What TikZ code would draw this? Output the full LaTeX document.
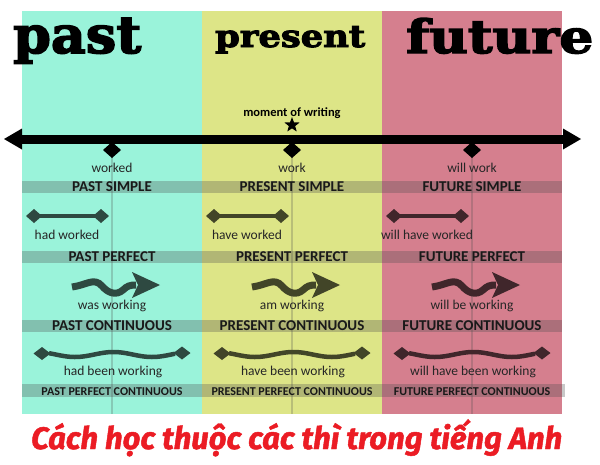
\documentclass[tikz,border=0pt]{standalone}
\usepackage{fontspec}
\usepackage{graphicx}
\usetikzlibrary{shapes.geometric}
\setmainfont{Carlito}
\newfontfamily\headfont{DejaVu Serif}[BoldFeatures={FakeBold=3}]
\newfontfamily\titlefont{Fira Sans}[BoldItalicFeatures={FakeBold=1.5}]
\definecolor{pastbg}{RGB}{154,243,218}
\definecolor{presbg}{RGB}{221,229,135}
\definecolor{futbg}{RGB}{213,127,142}
\definecolor{pastdk}{RGB}{46,73,65}
\definecolor{presdk}{RGB}{66,69,40}
\definecolor{futdk}{RGB}{64,38,43}
\definecolor{titlered}{RGB}{235,28,36}
\tikzset{
  band/.style={fill=black!70, fill opacity=0.3},
  vline/.style={draw=black!70, draw opacity=0.25, line width=2.5pt},
  dmd/.pic={\fill (-1,0) -- (0,-1) -- (1,0) -- (0,1) -- cycle;},
  lbl/.style={font=\fontsize{13.5}{14}\selectfont, text=black!85, inner sep=0, anchor=base},
  tense/.style={font=\bfseries\fontsize{15}{16}\selectfont, text=black!90, inner sep=0, anchor=base},
  tensesm/.style={font=\bfseries\fontsize{12}{13}\selectfont, text=black!90, inner sep=0, anchor=base},
  head/.style={anchor=base west, inner sep=0, text=black}
}
\begin{document}
\begin{tikzpicture}[x=1pt,y=-1pt]
\useasboundingbox (0,0) rectangle (600,464);
\fill[white] (0,0) rectangle (600,464);
% columns
\fill[pastbg] (22,11) rectangle (202,414);
\fill[presbg] (202,11) rectangle (382,414);
\fill[futbg] (382,11) rectangle (562,414);
% bands
\fill[band] (22,181) rectangle (562,193);
\fill[band] (22,251) rectangle (562,263);
\fill[band] (22,320) rectangle (562,332);
\fill[band] (22,384) rectangle (565,397);
% vertical lines
\foreach \cx in {112,292,472} \draw[vline] (\cx,143) -- (\cx,414);
% headers
\node[head] (hpast) at (13,53) {\resizebox{128pt}{35pt}{\headfont\bfseries past}};
\node[head] (hpres) at (215,47) {\resizebox{150pt}{21pt}{\headfont\bfseries present}};
\node[head] (hfut) at (406,53) {\resizebox{187pt}{35pt}{\headfont\bfseries future}};
% timeline
\draw[line width=9pt] (18,139) -- (566,139);
\fill (4,139) -- (22,128.5) -- (22,149.5) -- cycle;
\fill (581,139) -- (563,128.5) -- (563,149.5) -- cycle;
\node[font=\bfseries\fontsize{12.5}{13}\selectfont, inner sep=0, anchor=base] (mow) at (292,116) {moment of writing};
\node[star, star points=5, star point ratio=2.4, fill=black, minimum size=16pt, inner sep=0] (star) at (292,125) {};
% per column
\foreach \cx/\dk/\tA/\tB/\tC/\tD/\tE/\tF/\tG/\tH in {
  112/pastdk/worked/PAST SIMPLE/had worked/PAST PERFECT/was working/PAST CONTINUOUS/had been working/PAST PERFECT CONTINUOUS,
  292/presdk/work/PRESENT SIMPLE/have worked/PRESENT PERFECT/am working/PRESENT CONTINUOUS/have been working/PRESENT PERFECT CONTINUOUS,
  472/futdk/will work/FUTURE SIMPLE/will have worked/FUTURE PERFECT/will be working/FUTURE CONTINUOUS/will have been working/FUTURE PERFECT CONTINUOUS}{
  % row 1
  \pic[black, xscale=9, yscale=8] at (\cx,150) {dmd};
  \node[lbl] (l1-\cx) at (\cx,172) {\tA};
  \node[tense] (t1-\cx) at (\cx,191) {\tB};
  % row 2
  \draw[\dk, line width=4pt] (\cx-78,216) -- (\cx-11,216);
  \pic[\dk, xscale=8, yscale=7] at (\cx-78,216) {dmd};
  \pic[\dk, xscale=8, yscale=7] at (\cx-11,216) {dmd};
  \node[lbl] (l2-\cx) at (\cx-45,239.5) {\tC};
  \node[tense] (t2-\cx) at (\cx,261) {\tD};
  % row 3
  \draw[\dk, line width=7pt] (\cx-40,287) .. controls (\cx-25,285) and (\cx-18,277) .. (\cx-10,286)
     .. controls (\cx-4,293) and (\cx+4,296) .. (\cx+11,290) .. controls (\cx+15,286) and (\cx+18,285) .. (\cx+24,285);
  \fill[\dk] (\cx+20,272) -- (\cx+48,285) -- (\cx+20,298) -- (\cx+26,285) -- cycle;
  \node[lbl] (l3-\cx) at (\cx,309) {\tE};
  \node[tense] (t3-\cx) at (\cx,330) {\tF};
  % row 4
  \draw[\dk, line width=4.5pt] plot[domain=-63:63, samples=50] ({\cx+\x}, {354.5-2.5*cos(4.675*(\x-1.5))});
  \pic[\dk, xscale=8.5, yscale=6.5] at (\cx-70,353.5) {dmd};
  \pic[\dk, xscale=8.5, yscale=6.5] at (\cx+70,353) {dmd};
  \node[lbl] (l4-\cx) at (\cx+1,375) {\tG};
  \node[tensesm] (t4-\cx) at (\cx,395) {\tH};
}
% title
\node[anchor=base west, inner sep=0, text=titlered] (title) at (31,449) {\resizebox{531pt}{!}{\titlefont\bfseries\itshape Cách học thuộc các thì trong tiếng Anh}};
\end{tikzpicture}
\end{document}
